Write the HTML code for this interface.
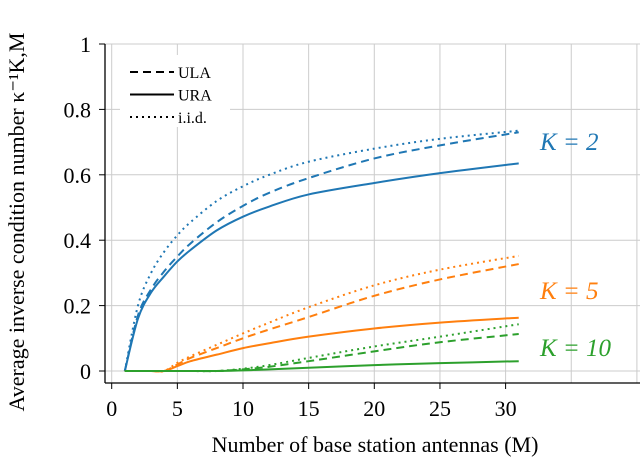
<!DOCTYPE html>
<html><head><meta charset="utf-8"><style>
body{margin:0;background:#fff}
svg text{font-family:"Liberation Serif",serif}
</style></head><body>
<svg id="c" width="640" height="463" xmlns="http://www.w3.org/2000/svg"></svg>
<script>
const xs   = [1,2,3,4,5,6,8,10,12,15,20,25,31];
const k2ura= [0,0.16,0.24,0.29,0.335,0.37,0.43,0.472,0.503,0.54,0.575,0.605,0.635];
const k2ula= [0,0.17,0.25,0.305,0.35,0.39,0.455,0.505,0.545,0.59,0.65,0.69,0.73];
const k2iid= [0,0.2,0.3,0.365,0.415,0.455,0.52,0.565,0.6,0.64,0.68,0.71,0.735];
const k5ura= [0,0,0,0,0.015,0.03,0.05,0.07,0.085,0.105,0.13,0.148,0.163];
const k5ula= [0,0,0,0,0.02,0.04,0.07,0.1,0.127,0.165,0.23,0.28,0.327];
const k5iid= [0,0,0,0,0.025,0.045,0.08,0.115,0.148,0.195,0.262,0.31,0.352];
const k10ura=[0,0,0,0,0,0,0,0.002,0.005,0.01,0.018,0.024,0.03];
const k10ula=[0,0,0,0,0,0,0,0.005,0.013,0.03,0.06,0.088,0.113];
const k10iid=[0,0,0,0,0,0,0,0.007,0.018,0.04,0.075,0.105,0.143];
const xTicks=[0,5,10,15,20,25,30];
const yTicks=[0,0.2,0.4,0.6,0.8,1];
const seriesNames=['k2-ura','k2-ula','k2-iid','k5-ura','k5-ula','k5-iid','k10-ura','k10-ula','k10-iid'];

const NS='http://www.w3.org/2000/svg', svg=document.getElementById('c');
const X=v=>111.7+v*13.13, Y=v=>371-v*327;
function mk(t,a,txt){const e=document.createElementNS(NS,t);for(const k in a)e.setAttribute(k,a[k]);if(txt!==undefined)e.textContent=txt;svg.appendChild(e);return e;}
xTicks.forEach(v=>{const l=mk('line',{x1:X(v),x2:X(v),y1:44,y2:383,stroke:'#cccccc','stroke-width':1});


const t=mk('text',{x:X(v),y:416,'text-anchor':'middle','font-size':22},v);


mk('line',{x1:X(v),x2:X(v),y1:383,y2:389,stroke:'#000'});});
[35,40].forEach(v=>mk('line',{x1:X(v),x2:X(v),y1:44,y2:383,stroke:'#cccccc'}));
yTicks.forEach(v=>{const l=mk('line',{x1:105,x2:640,y1:Y(v),y2:Y(v),stroke:'#cccccc'});


const t=mk('text',{x:91,y:Y(v)+8,'text-anchor':'end','font-size':22},v);


mk('line',{x1:99,x2:105,y1:Y(v),y2:Y(v),stroke:'#000'});});
mk('line',{x1:105,x2:105,y1:44,y2:383,stroke:'#000','stroke-width':1.3});
mk('line',{x1:105,x2:640,y1:383,y2:383,stroke:'#000','stroke-width':1.3});
const data=[k2ura,k2ula,k2iid,k5ura,k5ula,k5iid,k10ura,k10ula,k10iid];
const cols=['#1f77b4','#ff7f0e','#2ca02c'];
const dash=['','8,5','2,4'];
data.forEach((arr,i)=>{
  const pts=arr.map((v,j)=>[X(xs[j]),Y(v)]);
  let d='M'+pts[0];
  for(let j=1;j<pts.length;j++){const p0=pts[Math.max(j-2,0)],p1=pts[j-1],p2=pts[j],p3=pts[Math.min(j+1,pts.length-1)];
    const c1=[p1[0]+(p2[0]-p0[0])/6,p1[1]+(p2[1]-p0[1])/6],c2=[p2[0]-(p3[0]-p1[0])/6,p2[1]-(p3[1]-p1[1])/6];
    d+=' C'+c1+' '+c2+' '+p2;}
  const p=mk('path',{d:d,fill:'none',stroke:cols[Math.floor(i/3)],'stroke-width':2,'stroke-dasharray':dash[i%3]});
  
  
});
mk('rect',{x:120,y:55,width:110,height:72,fill:'#fff'});
['ULA','URA','i.i.d.'].forEach((n,i)=>{const y=72+i*22.5;
  mk('line',{x1:130,x2:174,y1:y,y2:y,stroke:'#000','stroke-width':2,'stroke-dasharray':['8,5','','2,4'][i]});
  const t=mk('text',{x:178,y:y+6,'font-size':16},n);
  
  });
[['K = 2',150,cols[0]],['K = 5',299,cols[1]],['K = 10',356,cols[2]]].forEach(a=>{
  const t=mk('text',{x:540,y:a[1],'font-size':25,fill:a[2],'font-style':'italic'},a[0]);
  
  });
const xt=mk('text',{x:375,y:452,'text-anchor':'middle','font-size':22},'Number of base station antennas (M)');


const yt=mk('text',{x:0,y:0,'text-anchor':'middle','font-size':22,transform:'translate(24,222) rotate(-90)'},'Average inverse condition number κ⁻¹K,M');


</script>
</body></html>
